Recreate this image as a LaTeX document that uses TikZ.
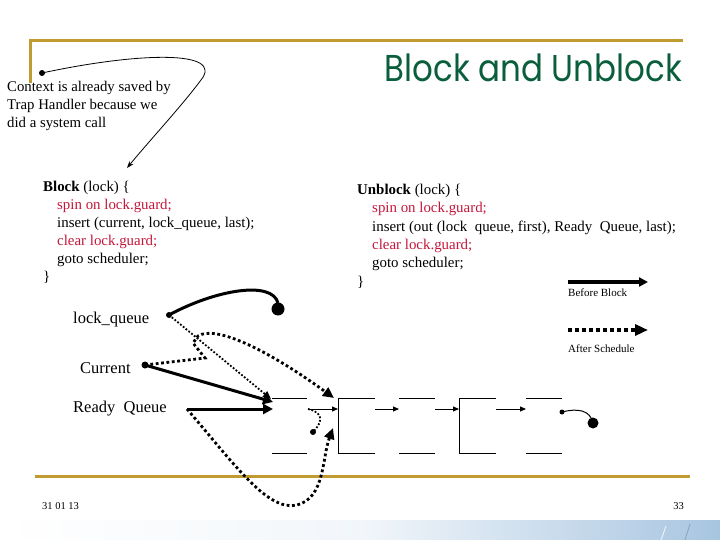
\documentclass[tikz,border=0pt]{standalone}
\usepackage{fontspec}
\setmainfont{Liberation Serif}
\newfontfamily\titlefont{Poppins}
\usetikzlibrary{arrows.meta}
\definecolor{gold}{RGB}{191,155,48}
\definecolor{titlegreen}{RGB}{10,94,60}
\definecolor{codered}{RGB}{196,22,58}
\definecolor{bandblue}{RGB}{168,197,224}
\begin{document}
\begin{tikzpicture}[x=1pt,y=-1pt,
  txt/.style={anchor=base west,inner sep=0pt,font=\fontsize{14.9}{17}\selectfont},
  note/.style={anchor=base west,inner sep=0pt,font=\fontsize{14.8}{18}\selectfont},
  lbl/.style={anchor=base west,inner sep=0pt,font=\fontsize{16.5}{19}\selectfont},
  small/.style={anchor=base west,inner sep=0pt,font=\fontsize{11}{12}\selectfont},
  red/.style={text=codered},
  thickarrow/.style={line width=3pt,-{Triangle[length=10pt,width=10pt]}},
  dotarrow/.style={line width=2.8pt,dash pattern=on 2.8pt off 2.6pt,-{Triangle[length=11pt,width=10pt]}},
  thinline/.style={line width=0.9pt},
  thinarrow/.style={line width=0.9pt,-{Triangle[length=6pt,width=5pt]}}]
\useasboundingbox (0,0) rectangle (720,540);
% bottom band
\shade[left color=white,right color=bandblue,middle color=white!85!bandblue] (0,520) rectangle (720,540);
\draw[white,line width=1pt,opacity=0.7] (661,540) -- (666,526);
\draw[bandblue!70!black,line width=0.8pt,opacity=0.6] (685,540) -- (690,524);
% frame lines
\draw[gold,line width=3pt] (30,83) -- (30,41) -- (683,41);
\draw[gold,line width=3pt] (35,476) -- (690,476);
% title
\node[anchor=base east,inner sep=0pt,text=titlegreen,font=\titlefont\fontsize{32.5}{36}\selectfont] (title) at (682,82) {\scalebox{1}[1.15]{Block and Unblock}};
% context note
\node[note] (c1) at (7,92) {Context is already saved by};
\node[note] (c2) at (7,110) {Trap Handler because we};
\node[note] (c3) at (7,128) {did a system call};
\coordinate (ctxdot) at (42,73);
\coordinate (ctxtip) at (127,168);
\fill (ctxdot) circle (3pt);
\draw[line width=0.8pt,-{Stealth[length=7pt,width=5pt]}] (ctxdot) .. controls (140,52) and (225,50) .. (201,80) .. controls (180,108) and (150,140) .. (ctxtip);
% Block code
\node[txt] (b1) at (43,192) {\textbf{Block} (lock) \{};
\node[txt,red] (b2) at (57,210) {spin on lock.guard;};
\node[txt] (b3) at (57,228) {insert (current, lock\_queue, last);};
\node[txt,red] (b4) at (57,245) {clear lock.guard;};
\node[txt] (b5) at (57,263) {goto scheduler;};
\node[txt] (b6) at (43,281) {\}};
% Unblock code
\node[txt] (u1) at (357,195) {\textbf{Unblock} (lock) \{};
\node[txt,red] (u2) at (372,213) {spin on lock.guard;};
\node[txt] (u3) at (372,231) {insert (out (lock\ \ queue, first), Ready\ \ Queue, last);};
\node[txt,red] (u4) at (372,249) {clear lock.guard;};
\node[txt] (u5) at (372,267) {goto scheduler;};
\node[txt] (u6) at (357,286) {\}};
% legend
\coordinate (lg1a) at (568,282); \coordinate (lg1b) at (648,282);
\coordinate (lg2a) at (568,330); \coordinate (lg2b) at (648,330);
\draw[line width=4pt,-{Triangle[length=9pt,width=9pt]}] (lg1a) -- (lg1b);
\draw[line width=4pt,dash pattern=on 4pt off 3pt,-{Triangle[length=13pt,width=11pt]}] (lg2a) -- (lg2b);
\node[small] (lgt1) at (568,296) {Before Block};
\node[small] (lgt2) at (568,352) {After Schedule};
% labels
\node[lbl] (lq) at (73,323) {lock\_queue};
\node[lbl] (cur) at (80,373) {Current};
\node[lbl] (rq) at (73,412) {Ready\ \ Queue};
\coordinate (lqdot) at (169,315);
\coordinate (curdot) at (145,365);
\coordinate (rqst) at (187,409);
\coordinate (lqend) at (278,309);
\fill (lqdot) circle (3pt);
\fill (curdot) circle (3.5pt);
% boxes
\coordinate (A1) at (272,398); \coordinate (A2) at (307,398);
\coordinate (A3) at (272,453); \coordinate (A4) at (307,453);
\coordinate (B1) at (338,398); \coordinate (B2) at (375,398);
\coordinate (B3) at (338,453); \coordinate (B4) at (375,453);
\coordinate (C1) at (399,398); \coordinate (C2) at (435,398);
\coordinate (C3) at (399,453); \coordinate (C4) at (435,453);
\coordinate (D1) at (459,398); \coordinate (D2) at (496,398);
\coordinate (D3) at (459,453); \coordinate (D4) at (496,453);
\coordinate (E1) at (526,398); \coordinate (E2) at (562,398);
\coordinate (E3) at (526,453); \coordinate (E4) at (562,453);
\draw[thinline] (A1) -- (A2) (A3) -- (A4);
\draw[thinline] (B2) -- (B1) -- (B3) -- (B4);
\draw[thinline] (C1) -- (C2) (C3) -- (C4);
\draw[thinline] (D2) -- (D1) -- (D3) -- (D4);
\draw[thinline] (E1) -- (E2) (E3) -- (E4);
\coordinate (a1s) at (308,409); \coordinate (a1e) at (338,409);
\coordinate (a2s) at (375,409); \coordinate (a2e) at (399,409);
\coordinate (a3s) at (435,409); \coordinate (a3e) at (459,409);
\coordinate (a4s) at (496,409); \coordinate (a4e) at (526,409);
\draw[thinarrow] (a1s) -- (a1e);
\draw[thinarrow] (a2s) -- (a2e);
\draw[thinarrow] (a3s) -- (a3e);
\draw[thinarrow] (a4s) -- (a4e);
\coordinate (endsm) at (562,412);
\coordinate (endbig) at (593,423);
\fill (endsm) circle (2.5pt);
\draw[line width=1pt] (endsm) .. controls (578,408) and (590,410) .. (endbig);
\fill (endbig) circle (5.5pt);
% before-block pointers
\draw[line width=3pt] (lqdot) .. controls (215,290) and (272,280) .. (278,303);
\fill (lqend) circle (6.5pt);
\coordinate (curtip) at (273,402);
\coordinate (rqtip) at (273,409);
\draw[thickarrow] (curdot) -- (curtip);
\draw[thickarrow] (rqst) -- (rqtip);
% after-schedule pointers
\coordinate (lqtip) at (271,399);
\draw[line width=1.8pt,dash pattern=on 1.8pt off 1.8pt,-{Triangle[length=8pt,width=7pt]}] (lqdot) -- (lqtip);
\coordinate (ctop) at (334,398);
\draw[dotarrow] (curdot) -- (205,358) -- (193,343) -- (198,336) .. controls (215,325) and (265,348) .. (ctop);
\coordinate (rqbot) at (333,428);
\draw[dotarrow] (rqst) .. controls (235,465) and (268,512) .. (297,505) .. controls (325,498) and (322,458) .. (rqbot);
\coordinate (smdot) at (313,432);
\draw[line width=1.8pt,dash pattern=on 1.8pt off 1.8pt] (a1s) .. controls (326,413) and (321,424) .. (smdot);
\fill (smdot) circle (3pt);
% footer
\node[anchor=base west,inner sep=0pt,font=\fontsize{10.5}{12}\selectfont] (date) at (42,509) {31 01 13};
\node[anchor=base east,inner sep=0pt,font=\fontsize{10.5}{12}\selectfont] (page) at (684,509) {33};
\end{tikzpicture}
\end{document}
